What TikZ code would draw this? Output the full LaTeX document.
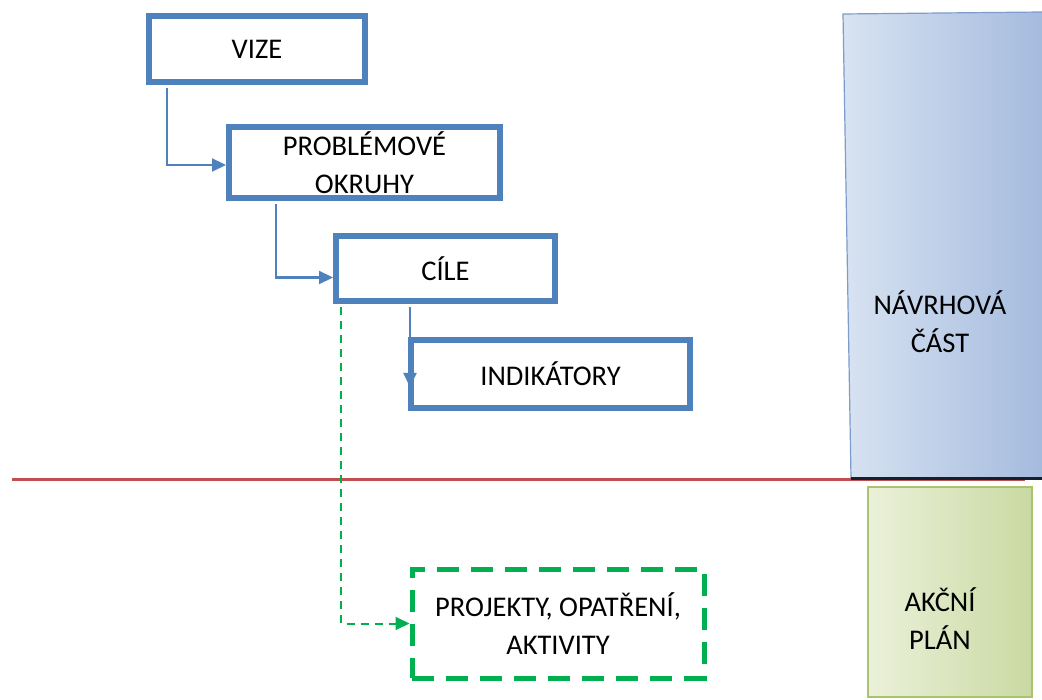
\documentclass[tikz,border=0pt]{standalone}
\usepackage{fontspec}
\setmainfont{Carlito}
\usetikzlibrary{arrows.meta}
\definecolor{boxblue}{HTML}{4F81BD}
\definecolor{dgreen}{HTML}{00B050}
\definecolor{redline}{HTML}{C0504D}
\definecolor{bleft}{HTML}{D8E3F2}
\definecolor{bright}{HTML}{A5BBDE}
\definecolor{gleft}{HTML}{EBF1DA}
\definecolor{gright}{HTML}{CAD9A2}
\definecolor{gborder}{HTML}{A9C46C}
\definecolor{bborder}{HTML}{7D9CCB}
\tikzset{
  bluebox/.style={draw=boxblue,line width=6pt,fill=white,minimum width=#1,align=center,inner sep=0pt},
  conn/.style={draw=boxblue,line width=2.2pt,-{Triangle[length=14pt,width=13pt]}},
  greenbox/.style={draw=dgreen,line width=5pt,dash pattern=on 22pt off 12pt,fill=white,align=center,inner sep=0pt},
  greenconn/.style={draw=dgreen,line width=2pt,dash pattern=on 8pt off 6pt,-{Triangle[length=14pt,width=13pt]}},
  lbl/.style={align=center}
}
\begin{document}
\begin{tikzpicture}[x=1pt,y=-1pt,font=\fontsize{28.5}{38}\selectfont]
\useasboundingbox (0,0) rectangle (1042,700);
% red separator
\draw[redline,line width=3pt] (12,480) -- (1025,480);
% right-hand panels
\shade[left color=bleft, right color=bright] (843,14) -- (1042,12) -- (1042,478) -- (851,478) -- cycle;
\draw[bborder,line width=1.2pt] (1042,12) -- (843,14) -- (851,478);
\draw[black!75!boxblue,line width=2.5pt] (851,478.5) -- (1042,478.5);
\shade[left color=gleft, right color=gright] (868,487) rectangle (1032,697);
\draw[gborder,line width=1.5pt] (868,487) rectangle (1032,697);
\node[lbl] (navrh) at (940,322) {NÁVRHOVÁ\\ČÁST};
\node[lbl] (akcni) at (940,619) {AKČNÍ\\PLÁN};
% boxes
\node[bluebox=216pt,minimum height=66pt] (vize) at (257,49) {VIZE};
\node[bluebox=271pt,minimum height=71pt] (probl) at (364.5,163) {PROBLÉMOVÉ\\OKRUHY};
\node[bluebox=219pt,minimum height=65pt] (cile) at (445.5,268.5) {CÍLE};
\node[bluebox=279pt,minimum height=68pt] (indik) at (550.5,374) {INDIKÁTORY};
\node[greenbox,minimum width=292pt,minimum height=109pt] (proj) at (558,623.5) {PROJEKTY, OPATŘENÍ,\\AKTIVITY};
% connectors
\draw[conn] (vize.south west) ++(21,3) |- ([yshift=-2pt]probl.west);
\draw[conn] (probl.south west) ++(50,3) |- ([yshift=-9pt]cile.west);
\draw[conn] (cile.south west) ++(77,3) -- ++(0,80);
\draw[greenconn] (cile.south west) ++(8,3) |- (proj.west);
\end{tikzpicture}
\end{document}
